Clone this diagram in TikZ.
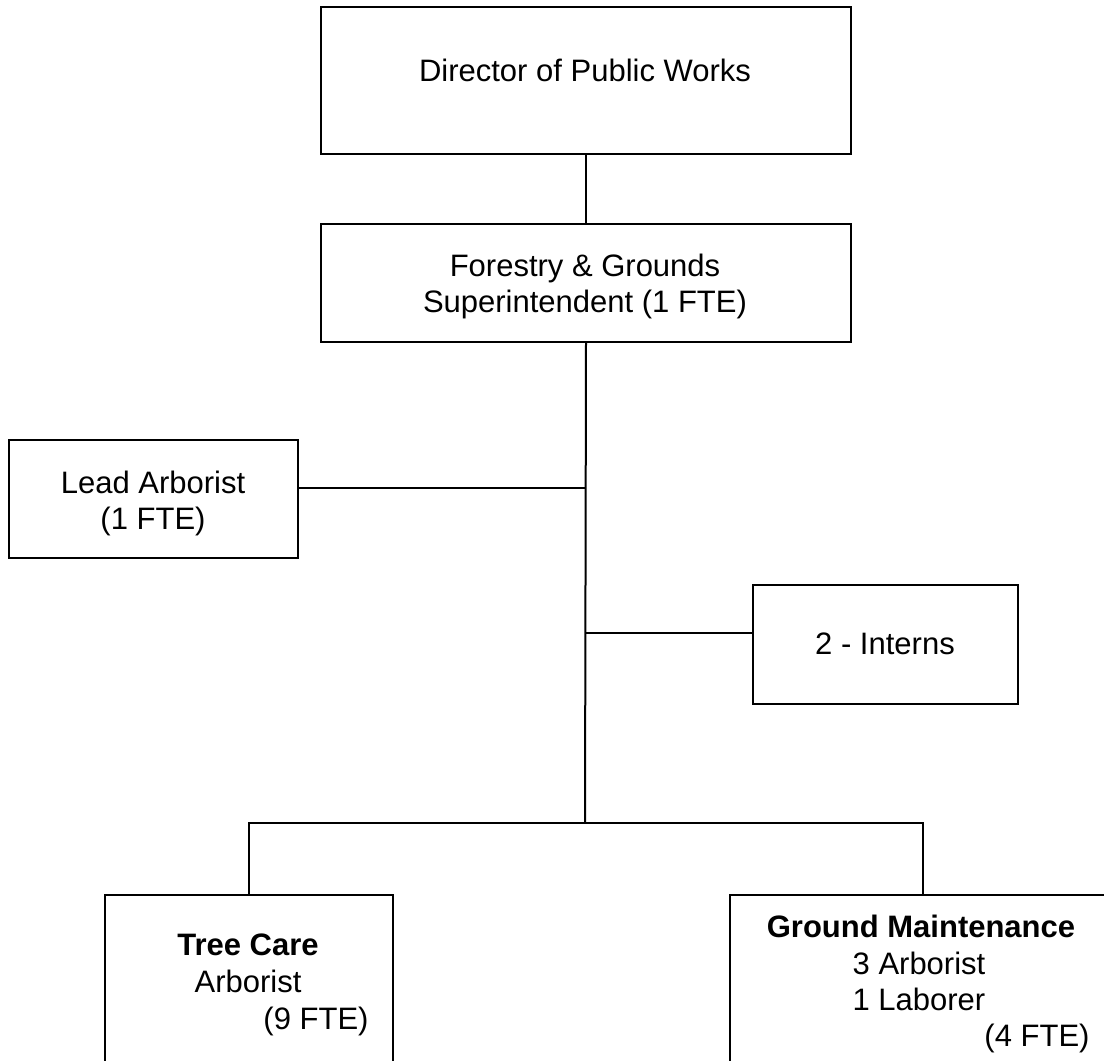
\documentclass[tikz,border=0pt]{standalone}
\usepackage{fontspec}
\setmainfont{Liberation Sans}
\begin{document}
\begin{tikzpicture}[x=1pt,y=1pt,
  box/.style={draw,line width=2pt,rectangle,inner sep=0pt,anchor=north west},
  txt/.style={anchor=base,inner sep=0pt,font=\fontsize{31}{36}\selectfont},
  btxt/.style={anchor=base,inner sep=0pt,font=\fontsize{31}{36}\selectfont\bfseries},
  conn/.style={line width=2pt}]
\useasboundingbox (0,0) rectangle (1104,-1061);
\clip (0,0) rectangle (1104,-1061);
\fill[white] (0,0) rectangle (1104,-1061);
% boxes
\node[box,minimum width=530,minimum height=147] (dir) at (320,-6) {};
\node[box,minimum width=530,minimum height=118] (for) at (320,-223) {};
\node[box,minimum width=289,minimum height=118] (lead) at (8,-439) {};
\node[box,minimum width=265,minimum height=119] (int) at (752,-584) {};
\node[box,minimum width=288,minimum height=250] (tree) at (104,-894) {};
\node[box,minimum width=420,minimum height=250] (gm) at (729,-894) {};
% connectors
\coordinate (jn) at (585,-823);
\coordinate (gmdrop) at (923,-894);
\draw[conn] (dir.south) -- (for.north);
\draw[conn] (for.south) -- (jn);
\draw[conn] ([yshift=11]lead.east) -- ([yshift=11]lead.east -| jn);
\draw[conn] ([yshift=12]int.west) -- ([yshift=12]int.west -| jn);
\draw[conn] (tree.north) -- (tree.north |- jn) -- (gmdrop |- jn) -- (gmdrop);
% texts
\node[txt] (dirt) at (585,-81) {Director of Public Works};
\node[txt] (fort1) at (585,-276) {Forestry \& Grounds};
\node[txt] (fort2) at (585,-312) {Superintendent (1 FTE)};
\node[txt] (leadt1) at (153,-493) {Lead Arborist};
\node[txt] (leadt2) at (153,-529) {(1 FTE)};
\node[txt] (intt) at (885,-654) {2 - Interns};
\node[btxt] (tc1) at (248,-955) {Tree Care};
\node[txt] (tc2) at (248,-992) {Arborist};
\node[txt] (tc3) at (316,-1029) {(9 FTE)};
\node[btxt] (gm1) at (921,-937) {Ground Maintenance};
\node[txt] (gm2) at (919,-974) {3 Arborist};
\node[txt] (gm3) at (919,-1010) {1 Laborer};
\node[txt] (gm4) at (1037,-1046) {(4 FTE)};
\end{tikzpicture}
\end{document}
